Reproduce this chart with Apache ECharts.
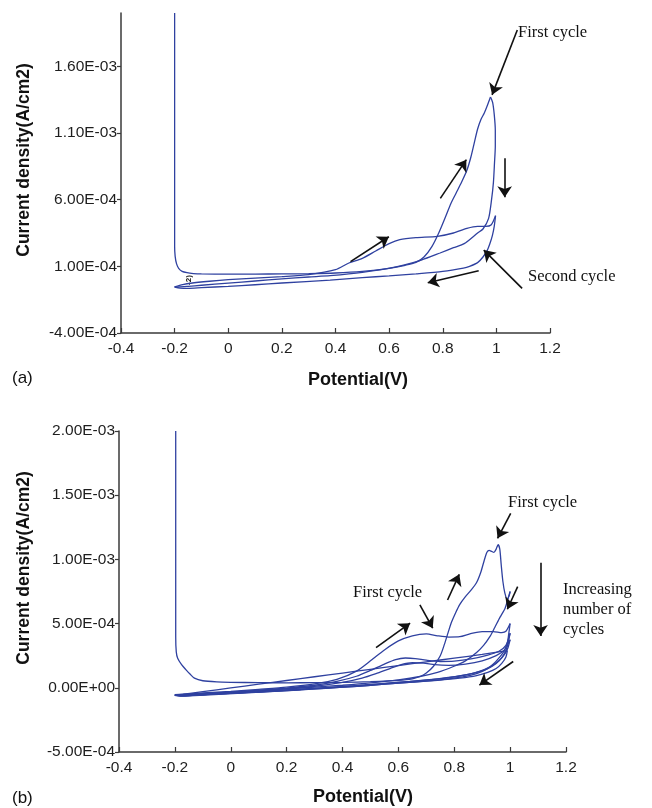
<!DOCTYPE html>
<html>
<head>
<meta charset="utf-8">
<script src="https://cdn.jsdelivr.net/npm/echarts@6/dist/echarts.min.js"></script>
<style>html,body{margin:0;padding:0;background:#fff}#c{width:652px;height:808px}</style>
</head>
<body>
<div id="c"></div>
<script>
// ---------- tick values ----------
const xTicks = [-0.4, -0.2, 0, 0.2, 0.4, 0.6, 0.8, 1, 1.2];
const aYTicks = [-4e-4, 1e-4, 6e-4, 1.1e-3, 1.6e-3];
const bYTicks = [-5e-4, 0, 5e-4, 1e-3, 1.5e-3, 2e-3];

// ---------- panel (a) ----------
const aForward1 = [[-0.2,2.0e-3],[-0.2,1.4e-3],[-0.2,8e-4],[-0.2,4e-4],[-0.2,2.5e-4],[-0.198,1.75e-4],[-0.193,1.2e-4],[-0.185,8.5e-5],[-0.172,6.2e-5],[-0.154,5.2e-5],[-0.13,4.6e-5],[-0.1,4.3e-5],[0.0,4.2e-5],[0.1,4.2e-5],[0.2,4.3e-5],[0.3,4.5e-5],[0.4,5.0e-5],[0.5,6.2e-5],[0.6,8.5e-5],[0.66,1.08e-4],[0.7,1.3e-4],[0.73,1.7e-4],[0.76,2.5e-4],[0.785,3.5e-4],[0.81,4.7e-4],[0.83,5.7e-4],[0.85,6.5e-4],[0.87,7.3e-4],[0.89,8.2e-4],[0.905,9.2e-4],[0.918,1.03e-3],[0.93,1.13e-3],[0.942,1.2e-3],[0.955,1.25e-3],[0.967,1.31e-3],[0.978,1.37e-3]];
const aReverse1 = [[0.978,1.37e-3],[0.986,1.33e-3],[0.992,1.24e-3],[0.996,1.12e-3],[0.996,1.0e-3],[0.993,8.75e-4],[0.989,7.3e-4],[0.982,6.0e-4],[0.971,4.6e-4],[0.95,3.8e-4],[0.93,3.5e-4],[0.88,2.7e-4],[0.84,2.4e-4],[0.79,2.0e-4],[0.72,1.47e-4],[0.63,9.8e-5],[0.5,5.5e-5],[0.38,3.0e-5],[0.3,2.0e-5],[0.2,6e-6],[0.1,-1.0e-5],[0.0,-2.6e-5],[-0.1,-4.2e-5],[-0.15,-5.0e-5],[-0.185,-5.4e-5],[-0.2,-5.4e-5]];
const aForward2 = [[-0.2,-5.4e-5],[-0.17,-3.8e-5],[-0.14,-2.7e-5],[-0.07,-1.2e-5],[0.0,0],[0.1,1.2e-5],[0.2,2.3e-5],[0.3,3.8e-5],[0.4,7.5e-5],[0.45,1.25e-4],[0.5,1.6e-4],[0.55,2.15e-4],[0.6,2.7e-4],[0.64,3.0e-4],[0.7,3.15e-4],[0.78,3.25e-4],[0.84,3.5e-4],[0.89,3.85e-4],[0.93,4.0e-4],[0.96,4.0e-4],[0.98,4.1e-4],[0.997,4.8e-4]];
const aReverse2 = [[0.997,4.8e-4],[0.992,4.0e-4],[0.985,3.3e-4],[0.975,2.65e-4],[0.966,2.2e-4],[0.95,1.7e-4],[0.93,1.28e-4],[0.9,1.0e-4],[0.877,8.7e-5],[0.8,6.2e-5],[0.7,4.4e-5],[0.6,2.9e-5],[0.5,1.5e-5],[0.38,-3e-6],[0.2,-2.5e-5],[0.1,-3.8e-5],[0.0,-5.0e-5],[-0.1,-6.0e-5],[-0.15,-6.5e-5],[-0.18,-6.3e-5],[-0.2,-5.5e-5]];

// ---------- panel (b) ----------
const bForward1 = [[-0.197,2.0e-3],[-0.197,1.4e-3],[-0.197,8e-4],[-0.197,4e-4],[-0.195,2.8e-4],[-0.19,2.3e-4],[-0.176,1.8e-4],[-0.16,1.4e-4],[-0.145,1.05e-4],[-0.13,7.5e-5],[-0.1,5.5e-5],[-0.05,4.6e-5],[0.0,4.3e-5],[0.1,4.0e-5],[0.2,3.9e-5],[0.3,4.0e-5],[0.4,4.2e-5],[0.5,4.8e-5],[0.6,5.8e-5],[0.65,7.0e-5],[0.68,9e-5],[0.7,1.15e-4],[0.725,1.66e-4],[0.75,2.5e-4],[0.765,3.4e-4],[0.778,4.3e-4],[0.79,5.1e-4],[0.805,5.85e-4],[0.82,6.5e-4],[0.84,7.1e-4],[0.86,7.6e-4],[0.88,8.2e-4],[0.895,9.0e-4],[0.907,9.9e-4],[0.917,1.055e-3],[0.925,1.07e-3],[0.934,1.062e-3],[0.942,1.055e-3],[0.95,1.08e-3],[0.957,1.115e-3],[0.963,1.08e-3],[0.968,9.6e-4],[0.974,8.3e-4],[0.981,7.4e-4],[0.99,6.9e-4],[0.997,7.2e-4],[1.0,7.5e-4]];
const bReverse1 = [[1.0,7.5e-4],[0.993,7.0e-4],[0.982,6.2e-4],[0.964,5.5e-4],[0.945,4.7e-4],[0.928,4.0e-4],[0.905,3.3e-4],[0.88,2.75e-4],[0.84,2.1e-4],[0.797,1.66e-4],[0.74,1.2e-4],[0.677,8.8e-5],[0.6,6.2e-5],[0.5,3.8e-5],[0.4,2.0e-5],[0.3,5e-6],[0.2,-8e-6],[0.1,-2.0e-5],[0.0,-3.3e-5],[-0.1,-4.6e-5],[-0.16,-5.5e-5],[-0.19,-5.8e-5],[-0.2,-5.4e-5]];
const bForward2 = [[-0.2,-5.4e-5],[-0.17,-5.0e-5],[-0.1,-4.0e-5],[0.0,-2.8e-5],[0.1,-1.2e-5],[0.2,5e-6],[0.3,3.0e-5],[0.38,6.5e-5],[0.45,1.3e-4],[0.5,2.1e-4],[0.55,2.95e-4],[0.6,3.65e-4],[0.65,4.05e-4],[0.7,4.2e-4],[0.74,4.05e-4],[0.78,3.95e-4],[0.82,3.98e-4],[0.856,4.2e-4],[0.9,4.38e-4],[0.94,4.38e-4],[0.97,4.3e-4],[0.985,4.4e-4],[1.0,5.0e-4]];
const bReverse2 = [[1.0,5.0e-4],[0.995,4.2e-4],[0.99,3.5e-4],[0.978,2.85e-4],[0.964,2.43e-4],[0.94,1.85e-4],[0.916,1.45e-4],[0.88,1.1e-4],[0.83,8.5e-5],[0.75,6.2e-5],[0.65,4.4e-5],[0.55,2.8e-5],[0.45,1.2e-5],[0.35,-2e-6],[0.25,-1.5e-5],[0.15,-2.7e-5],[0.05,-3.8e-5],[-0.05,-4.8e-5],[-0.12,-5.6e-5],[-0.17,-6.1e-5],[-0.2,-5.6e-5]];
const bForward3 = [[-0.2,-5.6e-5],[-0.16,-5.4e-5],[-0.1,-4.6e-5],[0.0,-3.4e-5],[0.1,-2.0e-5],[0.2,-2e-6],[0.3,2.0e-5],[0.38,5e-5],[0.45,9e-5],[0.5,1.35e-4],[0.55,1.85e-4],[0.59,2.2e-4],[0.625,2.32e-4],[0.66,2.28e-4],[0.7,2.15e-4],[0.75,2.05e-4],[0.8,2.08e-4],[0.86,2.25e-4],[0.92,2.55e-4],[0.96,2.85e-4],[0.985,3.3e-4],[1.0,4.25e-4]];
const bReverse3 = [[1.0,4.25e-4],[0.993,3.5e-4],[0.985,2.9e-4],[0.97,2.35e-4],[0.95,1.9e-4],[0.92,1.5e-4],[0.88,1.2e-4],[0.82,9.2e-5],[0.74,7e-5],[0.64,5e-5],[0.54,3.3e-5],[0.44,1.7e-5],[0.34,2e-6],[0.24,-1.2e-5],[0.14,-2.5e-5],[0.04,-3.7e-5],[-0.06,-4.8e-5],[-0.13,-5.7e-5],[-0.18,-6.2e-5],[-0.2,-5.7e-5]];
const bForward4 = [[-0.2,-5.7e-5],[-0.16,-5.5e-5],[-0.1,-4.8e-5],[0.0,-3.6e-5],[0.1,-2.3e-5],[0.2,-7e-6],[0.3,1.2e-5],[0.4,4.2e-5],[0.47,7.5e-5],[0.52,1.1e-4],[0.57,1.5e-4],[0.61,1.8e-4],[0.65,1.95e-4],[0.69,1.92e-4],[0.73,1.8e-4],[0.78,1.75e-4],[0.84,1.85e-4],[0.9,2.1e-4],[0.95,2.5e-4],[0.98,2.95e-4],[1.0,3.75e-4]];
const bReverse4 = [[1.0,3.75e-4],[0.992,3.1e-4],[0.98,2.6e-4],[0.96,2.1e-4],[0.93,1.65e-4],[0.89,1.28e-4],[0.84,1.0e-4],[0.77,7.6e-5],[0.68,5.6e-5],[0.58,3.8e-5],[0.48,2.1e-5],[0.38,6e-6],[0.28,-8e-6],[0.18,-2.1e-5],[0.08,-3.3e-5],[-0.02,-4.5e-5],[-0.1,-5.5e-5],[-0.16,-6.2e-5],[-0.2,-5.8e-5]];
const bForward5 = [[-0.2,-5.8e-5],[-0.1,-3.0e-5],[0.0,-1e-6],[0.1,2.8e-5],[0.2,5.7e-5],[0.3,8.6e-5],[0.4,1.15e-4],[0.5,1.44e-4],[0.6,1.73e-4],[0.7,2.02e-4],[0.8,2.31e-4],[0.9,2.6e-4],[0.99,2.9e-4]];
const bReverse5 = [[0.99,2.9e-4],[0.985,2.4e-4],[0.97,1.9e-4],[0.95,1.5e-4],[0.92,1.2e-4],[0.88,9.5e-5],[0.82,7.5e-5],[0.74,5.8e-5],[0.64,4.2e-5],[0.54,2.6e-5],[0.44,1.0e-5],[0.34,-4e-6],[0.24,-1.7e-5],[0.14,-2.9e-5],[0.04,-4.1e-5],[-0.06,-5.2e-5],[-0.13,-6e-5],[-0.18,-6.4e-5],[-0.2,-5.8e-5]];

// ---------- annotation arrows (data coords: start -> end) ----------
const aArrows = [
  [[1.078,1.872e-3],[0.984,1.386e-3]],
  [[0.791,6.1e-4],[0.888,9.0e-4]],
  [[1.031,9.1e-4],[1.031,6.18e-4]],
  [[0.456,1.35e-4],[0.599,3.22e-4]],
  [[1.096,-6.5e-5],[0.953,2.22e-4]],
  [[0.934,6.7e-5],[0.744,-2.3e-5]]
];
const bArrows = [
  [[1.002,1.358e-3],[0.955,1.164e-3]],
  [[0.776,6.84e-4],[0.818,8.84e-4]],
  [[1.027,7.88e-4],[0.99,6.12e-4]],
  [[1.109,9.74e-4],[1.109,4.04e-4]],
  [[0.677,6.45e-4],[0.723,4.64e-4]],
  [[0.52,3.13e-4],[0.642,5.03e-4]],
  [[1.011,2.05e-4],[0.89,2.1e-5]]
];

const LINE = '#2f41a0';
const AXIS = '#3a3a3a';
const SANS = 'Liberation Sans, Arial, sans-serif';
const SERIF = 'Liberation Serif, Times New Roman, serif';

function fmtE(v) {
  const s = Number(v).toExponential(2).split('e');
  const e = parseInt(s[1], 10);
  const sign = e < 0 ? '-' : '+';
  const a = Math.abs(e);
  return s[0] + 'E' + sign + (a < 10 ? '0' + a : '' + a);
}

function xAxisFor(g) {
  return {
    gridIndex: g, type: 'value', min: -0.4, max: 1.2, interval: 0.2,
    axisLine: { show: true, onZero: false, lineStyle: { color: AXIS, width: 1.5 } },
    axisTick: { show: true, inside: true, length: 5, lineStyle: { color: AXIS, width: 1.2 } },
    axisLabel: { fontSize: 15.5, color: '#1e1e1e', margin: 8, fontFamily: SANS },
    splitLine: { show: false }
  };
}
function yAxisFor(g, min, max, ticks) {
  return {
    gridIndex: g, type: 'value', min: min, max: max,
    axisLine: { show: true, onZero: false, lineStyle: { color: AXIS, width: 1.5 } },
    axisTick: { show: true, inside: false, length: 4, customValues: ticks, lineStyle: { color: AXIS, width: 1.2 } },
    axisLabel: { customValues: ticks, formatter: fmtE, fontSize: 15.5, color: '#1e1e1e', margin: 4, fontFamily: SANS },
    splitLine: { show: false }
  };
}
function cv(data, g, arrows) {
  const s = {
    type: 'line', xAxisIndex: g, yAxisIndex: g, data: data,
    showSymbol: false, symbol: 'none', smooth: 0.25,
    lineStyle: { color: LINE, width: 1.3 }, silent: true
  };
  if (arrows) {
    s.markLine = {
      silent: true, symbol: ['none', 'arrow'], symbolSize: 11, animation: false,
      label: { show: false },
      lineStyle: { color: '#111', width: 1.6, type: 'solid' },
      emphasis: { disabled: true },
      data: arrows.map(a => [{ coord: a[0] }, { coord: a[1] }])
    };
  }
  return s;
}
function txt(x, y, s, opt) {
  return Object.assign({ type: 'text', x: x, y: y, silent: true,
    style: Object.assign({ text: s, fill: '#111', font: '16.5px ' + SERIF, textAlign: 'left', textVerticalAlign: 'middle' }, (opt && opt.style) || {}) },
    opt ? { rotation: opt.rotation || 0 } : {});
}

const chart = echarts.init(document.getElementById('c'), null, { renderer: 'canvas' });
chart.setOption({
  animation: false,
  backgroundColor: '#fff',
  grid: [
    { left: 121, top: 13, width: 429, height: 320, outerBoundsMode: 'none' },
    { left: 119, top: 431, width: 447, height: 321, outerBoundsMode: 'none' }
  ],
  xAxis: [xAxisFor(0), xAxisFor(1)],
  yAxis: [yAxisFor(0, -4e-4, 2e-3, aYTicks), yAxisFor(1, -5e-4, 2e-3, bYTicks)],
  series: [
    cv(aForward1, 0, aArrows), cv(aReverse1, 0), cv(aForward2, 0), cv(aReverse2, 0),
    cv(bForward1, 1, bArrows), cv(bReverse1, 1), cv(bForward2, 1), cv(bReverse2, 1),
    cv(bForward3, 1), cv(bReverse3, 1), cv(bForward4, 1), cv(bReverse4, 1),
    cv(bForward5, 1), cv(bReverse5, 1)
  ],
  graphic: [
    txt(24, 160, 'Current density(A/cm2)', { rotation: Math.PI / 2, style: { font: 'bold 17.5px ' + SANS, textAlign: 'center' } }),
    txt(358, 380, 'Potential(V)', { style: { font: 'bold 18px ' + SANS, textAlign: 'center' } }),
    txt(12, 378, '(a)', { style: { font: '17px ' + SANS } }),
    txt(518, 33, 'First cycle'),
    txt(528, 277, 'Second cycle'),
    txt(189, 280, '-2)', { rotation: Math.PI / 2, style: { font: 'bold 8px ' + SANS, textAlign: 'center' } }),
    txt(24, 568, 'Current density(A/cm2)', { rotation: Math.PI / 2, style: { font: 'bold 17.5px ' + SANS, textAlign: 'center' } }),
    txt(363, 797, 'Potential(V)', { style: { font: 'bold 18px ' + SANS, textAlign: 'center' } }),
    txt(12, 798, '(b)', { style: { font: '17px ' + SANS } }),
    txt(508, 503, 'First cycle'),
    txt(353, 593, 'First cycle'),
    txt(563, 590, 'Increasing'),
    txt(563, 610, 'number of'),
    txt(563, 630, 'cycles')
  ]
});
</script>
</body>
</html>
